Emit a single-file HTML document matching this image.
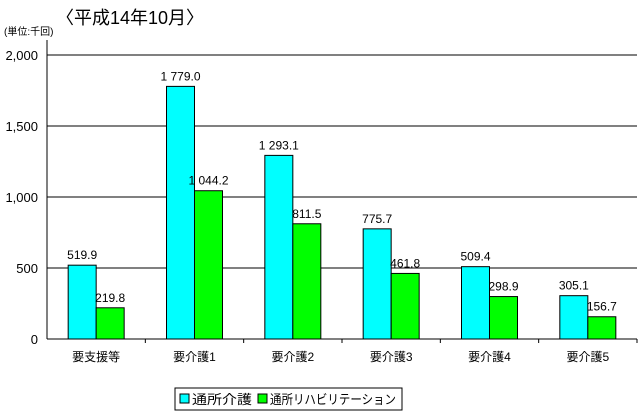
<!DOCTYPE html>
<html><head><meta charset="utf-8"><style>
body{margin:0;background:#fff;}
svg{display:block;font-family:"Liberation Sans","Noto Sans CJK JP",sans-serif;}
</style></head><body>
<svg id="c" width="644" height="418">
<text x="56" y="24" font-size="18">〈平成14年10月〉</text>
<text x="4" y="35" font-size="10">(単位:千回)</text>
<g id="grid"></g><g id="bars"></g><g id="axes"></g>
<g>
<rect x="175" y="388" width="227" height="22" fill="#fff" stroke="#000"/>
<rect x="180" y="394" width="9" height="9" fill="#00ffff" stroke="#000"/>
<text x="192" y="404" font-size="13" textLength="60" lengthAdjust="spacingAndGlyphs">通所介護</text>
<rect x="258" y="394" width="9" height="9" fill="#00ff00" stroke="#000"/>
<text x="270" y="404" font-size="13" textLength="126" lengthAdjust="spacingAndGlyphs">通所リハビリテーション</text>
</g>
</svg>
<script>
const categories=["要支援等","要介護1","要介護2","要介護3","要介護4","要介護5"];
const kaigo=[519.9,1779.0,1293.1,775.7,509.4,305.1];
const rehab=[219.8,1044.2,811.5,461.8,298.9,156.7];
const kaigoLabels=["519.9","1 779.0","1 293.1","775.7","509.4","305.1"];
const rehabLabels=["219.8","1 044.2","811.5","461.8","298.9","156.7"];
const yTicks=[0,500,1000,1500,2000];
const yTickLabels=["0","500","1,000","1,500","2,000"];
const NS="http://www.w3.org/2000/svg";
const X0=47,X1=637,Y0=339,Y1=55,YMAX=2000;
const gw=(X1-X0)/categories.length;
const y=v=>Y0-(v/YMAX)*(Y0-Y1);
const gx=i=>X0+i*gw;
function mk(tag,attrs,parent,text){const e=document.createElementNS(NS,tag);for(const k in attrs)e.setAttribute(k,attrs[k]);if(text!==undefined)e.textContent=text;document.getElementById(parent).appendChild(e);return e;}
yTicks.forEach((t,i)=>{
  if(t>0){const l=mk('line',{x1:X0,x2:X1,y1:y(t),y2:y(t),stroke:'#000'},'grid');
  
  }
  const tx=mk('text',{x:X0-9,y:y(t)+5,'font-size':13,'text-anchor':'end'},'axes',yTickLabels[i]);
  
  
});
const ax=mk('line',{x1:X0,x2:X0,y1:40,y2:Y0,stroke:'#000'},'axes');


const xa=mk('line',{x1:X0,x2:X1,y1:Y0,y2:Y0,stroke:'#000'},'axes');


categories.forEach((c,i)=>{
  const cx=gx(i)+gw/2, bw=28;
  const tk=mk('line',{x1:gx(i+1),x2:gx(i+1),y1:Y0,y2:Y0+4,stroke:'#000'},'axes');
  
  
  const b1=mk('rect',{x:cx-bw,y:y(kaigo[i]),width:bw,height:Y0-y(kaigo[i]),fill:'#00ffff',stroke:'#000'},'bars');
  
  
  const b2=mk('rect',{x:cx,y:y(rehab[i]),width:bw,height:Y0-y(rehab[i]),fill:'#00ff00',stroke:'#000'},'bars');
  
  
  const l1=mk('text',{x:cx-bw/2,y:y(kaigo[i])-6,'font-size':12,'text-anchor':'middle'},'bars',kaigoLabels[i]);
  
  
  const l2=mk('text',{x:cx+bw/2,y:y(rehab[i])-6,'font-size':12,'text-anchor':'middle'},'bars',rehabLabels[i]);
  
  
  const cl=mk('text',{x:cx,y:361,'font-size':12,'text-anchor':'middle'},'axes',c);
  
  
});
</script>
</body></html>
